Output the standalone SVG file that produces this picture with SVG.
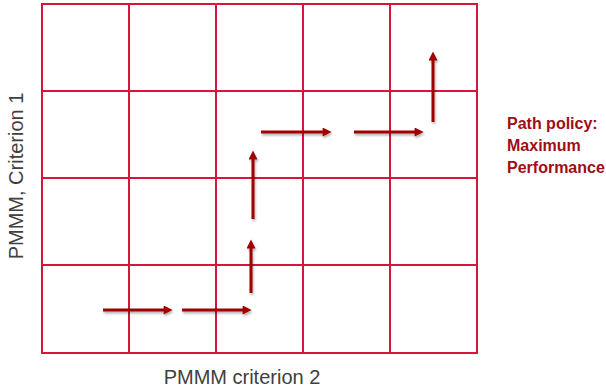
<svg xmlns="http://www.w3.org/2000/svg" width="606" height="387" viewBox="0 0 606 387">
<style>
.grid{fill:none;stroke:#D7143C;stroke-width:2}
.arr{fill:none;stroke:#A00000;stroke-width:3;marker-end:url(#ah)}
.axis{font-family:"Liberation Sans",Arial,sans-serif;font-size:20px;fill:#404040}
.pol{font-family:"Liberation Sans",Arial,sans-serif;font-size:16px;font-weight:bold;fill:#A00D14}
</style>
<defs>
<marker id="ah" viewBox="0 0 10 10" markerWidth="10" markerHeight="9" refX="6" refY="5" orient="auto" markerUnits="userSpaceOnUse">
<path d="M0,0 L10,5 L0,10 z" fill="#A00000"/>
</marker>
<filter id="sh" filterUnits="userSpaceOnUse" x="0" y="0" width="606" height="387">
<feDropShadow dx="1" dy="2" stdDeviation="1" flood-color="#000" flood-opacity="0.3"/>
</filter>
</defs>
<rect width="606" height="387" fill="#fff"/>
<g id="grid">
<rect class="grid" x="42" y="4" width="435" height="349"/>
<path class="grid" d="M129,4V353M216,4V353M303,4V353M390,4V353M42,91H477M42,178H477M42,265H477"/>
</g>
<g id="connectors" filter="url(#sh)">
<path class="arr" d="M103,310H169"/>
<path class="arr" d="M182,310H248"/>
<path class="arr" d="M251,293V243"/>
<path class="arr" d="M253,219V154"/>
<path class="arr" d="M261,132H328"/>
<path class="arr" d="M354,132H420"/>
<path class="arr" d="M433,122V55"/>
</g>
<g id="axis-x"><text class="axis" x="242" y="384" text-anchor="middle">PMMM criterion 2</text></g>
<g id="axis-y"><text class="axis" transform="translate(23,176) rotate(-90)" text-anchor="middle">PMMM, Criterion 1</text></g>
<g id="policy">
<text class="pol" x="507" y="129">Path policy:</text>
<text class="pol" x="507" y="151">Maximum</text>
<text class="pol" x="507" y="173">Performance</text>
</g>
</svg>
